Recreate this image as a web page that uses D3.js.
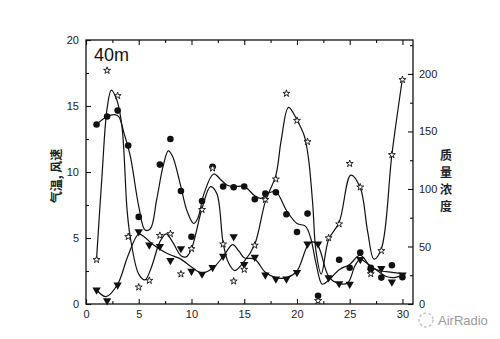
<!DOCTYPE html>
<html>
<head>
<meta charset="utf-8">
<script src="https://cdn.jsdelivr.net/npm/d3@7"></script>
<style>
  body { margin: 0; background: #fff; }
  svg text { font-family: "Liberation Sans", Arial, sans-serif; }
</style>
</head>
<body>
<div id="chart"></div>
<script>
(function () {

// days of the month
var days = [1, 2, 3, 4, 5, 6, 7, 8, 9, 10, 11, 12, 13, 14, 15, 16, 17, 18, 19, 20, 21, 22, 23, 24, 25, 26, 27, 28, 29, 30]

// air temperature (filled circles, left axis)
var tempVals = [13.6, 14.2, 14.65, 12.0, 6.6, null, 10.56, 12.5, 8.56, 5.1, 7.8, 10.4, 8.9, 8.84, 8.9, 7.93, 8.37, 8.46, 6.8, 5.46, 6.85, 0.62, null, 3.35, 2.75, 3.9, 2.75, 2.0, 2.93, 2.03]
// wind speed (filled triangles, left axis)
var windVals = [1.06, 0.25, 1.44, null, 5.48, 4.47, 4.36, 3.3, 4.2, 2.48, 2.27, 2.77, 3.62, 5.1, 3.0, 3.55, 2.2, 1.9, 1.9, 2.4, 4.55, 4.55, 2.0, 1.55, 1.5, 3.38, 2.5, 2.7, 1.68, 2.2]
// mass concentration (open stars, right axis)
var concVals = [38.5, 203, 181, 58.5, 14.6, 20.4, 59.5, 61, 26, 48, 82, 118, 52, 19.8, 30, 51, 90.7, 108.5, 183, 159.5, 141, 2.8, 57.4, 69.5, 122, 101.6, 26.2, 46.3, 129.7, 195]

// fitted curves: [day, value]
var tempFit = [[1, 13.6], [2, 14.2], [2.7, 14.35], [3.1, 14.2], [3.6, 12.95], [4.2, 11.2], [5, 7.4], [5.6, 5.6], [6.1, 5.7], [6.7, 7.9], [7.3, 10.4], [7.8, 11.6], [8.2, 11.2], [8.9, 9.2], [9.6, 7.0], [10.2, 6.1], [10.6, 6.5], [11.2, 8.4], [12.1, 9.85], [12.8, 9.4], [13.4, 9.0], [14, 8.9], [15, 8.9], [16, 8.2], [16.6, 8.0], [17.3, 8.4], [18, 8.5], [19, 7.1], [20, 6.1], [20.8, 5.9], [21.3, 5.0], [21.8, 3.1], [22.4, 1.5], [23, 1.8], [24, 2.6], [25, 3.0], [26, 3.7], [27, 2.8], [28, 2.5], [29, 2.4], [30, 2.3]]
var windFit = [[1, 1.06], [1.9, 0.56], [3, 1.5], [4, 3.7], [5, 5.3], [5.5, 5.1], [6.2, 4.6], [7, 4.15], [7.9, 3.75], [9, 3.4], [10, 2.8], [11, 2.35], [12, 2.7], [13, 3.6], [13.9, 4.5], [14.5, 4.0], [15, 3.5], [16, 3.4], [17, 2.4], [18, 2.0], [19, 2.0], [20, 2.5], [21, 4.4], [21.5, 4.7], [22, 4.4], [23, 2.1], [23.8, 1.6], [24.8, 1.6], [25.5, 2.9], [26, 3.4], [26.6, 3.1], [27.5, 2.6], [28.4, 2.1], [29.2, 2.0], [30, 2.2]]
var concFit = [[1, 39], [1.5, 109], [2, 170], [2.4, 186], [2.9, 178], [3.4, 155], [3.9, 81], [4.2, 58], [5, 26], [5.6, 21], [6.2, 32], [7, 54], [7.6, 61], [8.2, 54], [9, 42], [9.5, 41], [10, 48], [11, 83], [11.8, 102], [12.4, 96], [13, 53], [13.5, 36], [14.1, 29], [15, 37], [16, 52], [17, 89], [18, 112], [18.5, 142], [19.2, 171], [20, 160], [20.7, 146], [21.1, 126], [21.5, 86], [21.8, 46], [22.3, 26], [23, 56], [24, 71], [25.1, 112], [26, 101], [26.7, 63], [27.3, 39], [28, 48], [29, 130], [30, 196]]

var xTicks = [0, 5, 10, 15, 20, 25, 30]
var xMinor = [2.5, 7.5, 12.5, 17.5, 22.5, 27.5]
var leftTicks = [0, 5, 10, 15, 20]
var leftMinor = [2.5, 7.5, 12.5, 17.5]
var rightTicks = [0, 50, 100, 150, 200]
var rightMinor = [25, 75, 125, 175, 225]

var leftTitle = '气温, 风速'
var rightTitle = ['质', '量', '浓', '度']

var width = 500, height = 339
var margin = { top: 40, left: 86, right: 87, bottom: 35 }
var w = width - margin.left - margin.right,
    h = height - margin.top - margin.bottom

var svg = d3.select('#chart').append('svg')
    .attr('width', width)
    .attr('height', height)

var g = svg.append('g')
    .attr('transform', 'translate(' + margin.left + ',' + margin.top + ')')

var xScale = d3.scaleLinear().domain([0, 31]).range([0, w])
var yLeft = d3.scaleLinear().domain([0, 20]).range([h, 0])
var yRight = d3.scaleLinear().domain([0, 229.5]).range([h, 0])

function styleAxis(sel) {
  sel.select('.domain').remove()
  sel.selectAll('line').attr('stroke', '#111').attr('stroke-width', 1.1)
  sel.selectAll('text').attr('fill', '#222').style('font-size', '11px')
}

// major + minor ticks, all pointing inward
g.append('g').attr('transform', 'translate(0,' + h + ')')
  .call(d3.axisBottom(xScale).tickValues(xTicks).tickSize(-5).tickPadding(6).tickFormat(d3.format('d')))
  .call(styleAxis)
g.append('g').attr('transform', 'translate(0,' + h + ')')
  .call(d3.axisBottom(xScale).tickValues(xMinor).tickSize(-3).tickFormat(''))
  .call(styleAxis)
g.append('g')
  .call(d3.axisTop(xScale).tickValues(xTicks).tickSize(-5).tickFormat(''))
  .call(styleAxis)
g.append('g')
  .call(d3.axisTop(xScale).tickValues(xMinor).tickSize(-3).tickFormat(''))
  .call(styleAxis)
g.append('g')
  .call(d3.axisLeft(yLeft).tickValues(leftTicks).tickSize(-5).tickPadding(7).tickFormat(d3.format('d')))
  .call(styleAxis)
g.append('g')
  .call(d3.axisLeft(yLeft).tickValues(leftMinor).tickSize(-3).tickFormat(''))
  .call(styleAxis)
g.append('g').attr('transform', 'translate(' + w + ',0)')
  .call(d3.axisRight(yRight).tickValues(rightTicks).tickSize(-5).tickPadding(6).tickFormat(d3.format('d')))
  .call(styleAxis)
g.append('g').attr('transform', 'translate(' + w + ',0)')
  .call(d3.axisRight(yRight).tickValues(rightMinor).tickSize(-3).tickFormat(''))
  .call(styleAxis)

// frame
g.append('rect')
  .attr('width', w)
  .attr('height', h)
  .attr('fill', 'none')
  .attr('stroke', '#111')
  .attr('stroke-width', 1.3)

// fitted curves
var lineLeft = d3.line()
  .x(function (d) { return xScale(d[0]) })
  .y(function (d) { return yLeft(d[1]) })
  .curve(d3.curveCatmullRom.alpha(0.5))
var lineRight = d3.line()
  .x(function (d) { return xScale(d[0]) })
  .y(function (d) { return yRight(d[1]) })
  .curve(d3.curveCatmullRom.alpha(0.5))

g.append('path').datum(tempFit).attr('d', lineLeft)
  .attr('fill', 'none').attr('stroke', '#111').attr('stroke-width', 1.2)
g.append('path').datum(windFit).attr('d', lineLeft)
  .attr('fill', 'none').attr('stroke', '#111').attr('stroke-width', 1.2)
g.append('path').datum(concFit).attr('d', lineRight)
  .attr('fill', 'none').attr('stroke', '#111').attr('stroke-width', 1.2)

// markers
function pairs(vals) {
  return days.map(function (d, i) { return { day: d, v: vals[i] } })
    .filter(function (d) { return d.v != null })
}

g.selectAll('.temp-dot')
  .data(pairs(tempVals))
  .enter().append('circle')
  .attr('class', 'temp-dot')
  .attr('cx', function (d) { return xScale(d.day) })
  .attr('cy', function (d) { return yLeft(d.v) })
  .attr('r', 3.3)
  .attr('fill', '#111')

g.selectAll('.wind-dot')
  .data(pairs(windVals))
  .enter().append('path')
  .attr('class', 'wind-dot')
  .attr('d', d3.symbol().type(d3.symbolTriangle).size(30))
  .attr('transform', function (d) {
    return 'translate(' + xScale(d.day) + ',' + yLeft(d.v) + ') rotate(180)'
  })
  .attr('fill', '#111')

g.selectAll('.conc-dot')
  .data(pairs(concVals))
  .enter().append('path')
  .attr('class', 'conc-dot')
  .attr('d', d3.symbol().type(d3.symbolStar).size(15))
  .attr('transform', function (d) {
    return 'translate(' + xScale(d.day) + ',' + yRight(d.v) + ')'
  })
  .attr('fill', '#fff')
  .attr('stroke', '#111')
  .attr('stroke-width', 0.9)

// labels
g.append('text')
  .text('40m')
  .attr('x', 8)
  .attr('y', 21)
  .attr('font-size', 18)
  .attr('fill', '#111')

svg.append('text')
  .text(leftTitle)
  .attr('transform', 'translate(61,176) rotate(-90)')
  .attr('text-anchor', 'middle')
  .style('font-family', '"Noto Sans CJK SC", sans-serif')
  .attr('font-size', 12)
  .attr('font-weight', 'bold')
  .attr('fill', '#222')

svg.selectAll('.right-title')
  .data(rightTitle)
  .enter().append('text')
  .attr('class', 'right-title')
  .text(function (d) { return d })
  .attr('x', 446)
  .attr('y', function (d, i) { return 160 + i * 17 })
  .attr('text-anchor', 'middle')
  .style('font-family', '"Noto Sans CJK SC", sans-serif')
  .attr('font-size', 12)
  .attr('font-weight', 'bold')
  .attr('fill', '#222')

// watermark
svg.append('circle')
  .attr('cx', 426)
  .attr('cy', 320)
  .attr('r', 7)
  .attr('fill', 'none')
  .attr('stroke', '#c8c8c8')
  .attr('stroke-width', 1.5)
  .attr('stroke-dasharray', '3,2')
svg.append('text')
  .text('AirRadio')
  .attr('x', 438)
  .attr('y', 325)
  .attr('font-size', 13)
  .attr('fill', '#9a9a9a')

})()
</script>
</body>
</html>
